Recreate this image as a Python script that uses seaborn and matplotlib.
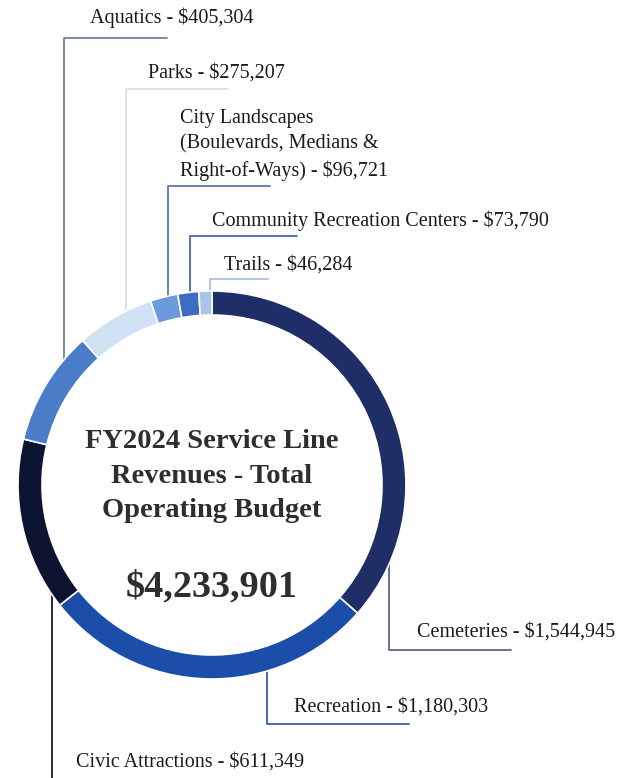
import matplotlib
matplotlib.use("Agg")
import matplotlib.pyplot as plt
import seaborn as sns
import numpy as np

# ---- data ----
categories = ["Cemeteries", "Recreation", "Civic Attractions", "Aquatics", "Parks",
              "City Landscapes\n(Boulevards, Medians &\nRight-of-Ways)",
              "Community Recreation Centers", "Trails"]
values = [1544945, 1180303, 611349, 405304, 275207, 96721, 73790, 46284]
total_label = "$4,233,901"
title_text = "FY2024 Service Line\nRevenues - Total\nOperating Budget"

colors = ["#1f2e66", "#1a4ea8", "#0c1431", "#4a7cc8", "#d0e1f3",
          "#6b9bdc", "#3e6cc0", "#a9c5ea"]
line_colors = ["#5a6684", "#3b5ca8", "#1a1a1a", "#6a80aa", "#d6e2f0",
               "#5a78b0", "#4a68b0", "#a8c0e0"]

sns.set_theme(style="white")
plt.rcParams['font.family'] = ['Liberation Serif', 'DejaVu Serif']

W, H = 631, 778
fig = plt.figure(figsize=(W / 100, H / 100), dpi=100)
ax = fig.add_axes([0, 0, 1, 1])

cx, cy = 212, H - 485
R = 194
ring_w = 24

ax.pie(values, colors=colors, startangle=90, counterclock=False,
       center=(cx, cy), radius=R, frame=True,
       wedgeprops=dict(width=ring_w, edgecolor="white", linewidth=1.2, zorder=3))
ax.set_xlim(0, W)
ax.set_ylim(0, H)
ax.set_aspect("equal")
ax.axis("off")

# layout: (line x, elbow y in pixels, horizontal end x, text x, text y, direction)
layout = [
    (389, 650, 511, 417, 632, "down"),
    (267, 724, 409, 294, 707, "down"),
    (52, 800, 52, 76, 762, "down"),
    (64, 38, 167, 90, 18, "up"),
    (126, 89, 228, 148, 73, "up"),
    (168, 186, 270, 180, 145, "up"),
    (190, 236, 297, 212, 221, "up"),
    (210, 279, 268, 224, 265, "up"),
]

fs = 14.5
for cat, val, col, (lx, ey, hx, tx, ty, d) in zip(categories, values, line_colors, layout):
    dx = lx - cx
    dy = np.sqrt(max(R ** 2 - dx ** 2, 0))
    ring_y = cy + dy - 5 if d == "up" else cy - dy + 5
    xs = [lx, lx, hx]
    ys = [ring_y, H - ey, H - ey]
    ax.plot(xs, ys, color=col, lw=1.3, zorder=1)
    label = f"{cat} - ${val:,}"
    ax.text(tx, H - ty, label, fontsize=fs, color="#1a1a1a",
            ha="left", va="center", linespacing=1.42)

ax.text(cx, H - 476, title_text, ha="center", va="center", fontsize=20.5,
        fontweight="bold", color="#2e2e2e", linespacing=1.48)
ax.text(cx, H - 587, total_label, ha="center", va="center", fontsize=27.5,
        fontweight="bold", color="#2e2e2e")

fig.savefig("out.png", dpi=100, facecolor="white")
